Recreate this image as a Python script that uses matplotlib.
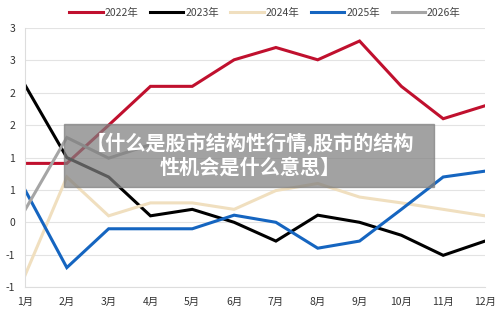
import matplotlib
matplotlib.use("Agg")
import matplotlib.pyplot as plt
from matplotlib.ticker import FixedLocator, FixedFormatter
import math

plt.rcParams["font.family"] = ["Noto Sans CJK SC", "DejaVu Sans"]

months = ["1月", "2月", "3月", "4月", "5月", "6月", "7月", "8月", "9月", "10月", "11月", "12月"]
y2022 = [0.91, 0.91, 1.5, 2.1, 2.1, 2.51, 2.7, 2.51, 2.8, 2.1, 1.6, 1.8]
y2023 = [2.12, 1.0, 0.7, 0.1, 0.2, 0.0, -0.29, 0.11, 0.0, -0.2, -0.51, -0.29]
y2024 = [-0.82, 0.7, 0.1, 0.3, 0.3, 0.2, 0.49, 0.6, 0.39, 0.3, 0.2, 0.1]
y2025 = [0.5, -0.7, -0.1, -0.1, -0.1, 0.11, 0.0, -0.4, -0.29, 0.2, 0.7, 0.79]
y2026 = [0.19, 1.31, 0.99, 1.2]
series_names = ["2022年", "2023年", "2024年", "2025年", "2026年"]
colors = ["#C0102E", "#000000", "#F0DFBF", "#1565C0", "#A5A5A5"]
yticks = [-1, -0.5, 0, 0.5, 1, 1.5, 2, 2.5, 3]
title_text = "【什么是股市结构性行情,股市的结构\n性机会是什么意思】"


def round_half_away(v):
    return int(math.copysign(math.floor(abs(v) + 0.5), v))


fig = plt.figure(figsize=(5, 3.12), dpi=100)
ax = fig.add_axes([0.05, 0.08, 0.92, 0.83])

x = list(range(len(months)))
for name, data, color in zip(series_names, [y2022, y2023, y2024, y2025, y2026], colors):
    ax.plot(x[:len(data)], data, color=color, lw=2.2, label=name, solid_joinstyle="miter")

ax.set_xlim(0, len(months) - 1)
ax.set_ylim(-1, 3)
ax.set_xticks(x)
ax.set_xticklabels(months)
ax.yaxis.set_major_locator(FixedLocator(yticks))
ax.yaxis.set_major_formatter(FixedFormatter([str(round_half_away(v)) for v in yticks]))
ax.tick_params(length=0, labelsize=7.5, colors="#333333")
ax.tick_params(axis="x", pad=7)
ax.tick_params(axis="y", pad=7)
ax.grid(axis="y", color="#e3e3e3", lw=0.8)
ax.set_axisbelow(True)
for side in ["top", "right"]:
    ax.spines[side].set_visible(False)
for side in ["left", "bottom"]:
    ax.spines[side].set_color("#dddddd")

fig.legend(loc="upper center", bbox_to_anchor=(0.53, 1.005), ncol=5, frameon=False,
           fontsize=7.5, handlelength=3.2, handletextpad=0.2, columnspacing=1.1,
           labelcolor="#444444")

fig.patches.append(plt.Rectangle((0.128, 0.40), 0.74, 0.202, transform=fig.transFigure,
                                 color="#7f7f7f", alpha=0.72, zorder=5))
fig.text(0.50, 0.503, title_text, ha="center", va="center", color="white",
         fontsize=14.5, fontweight="bold", linespacing=1.15, zorder=6)

fig.savefig("out.png", dpi=100)
